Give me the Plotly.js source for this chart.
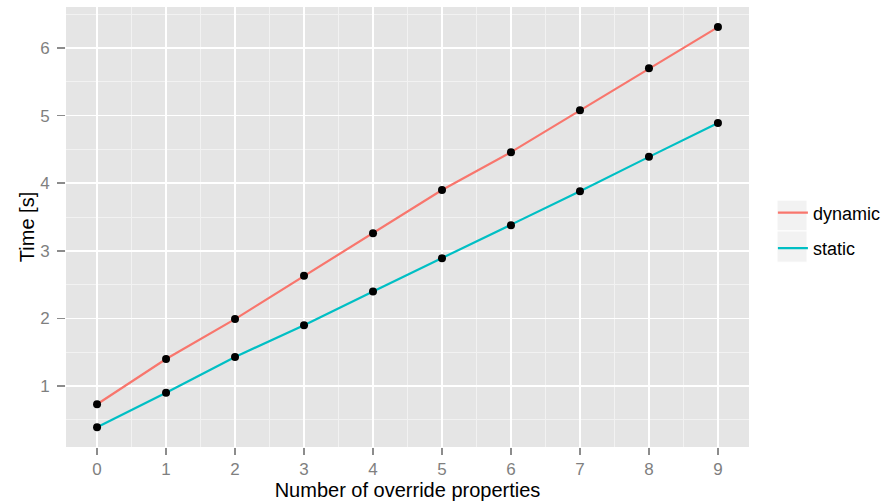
<!DOCTYPE html>
<html>
<head>
<meta charset="utf-8">
<script src="https://cdn.plot.ly/plotly-3.0.1.min.js"></script>
<style>html,body{margin:0;padding:0;background:#fff;}#chart{width:893px;height:501px;}</style>
</head>
<body>
<div id="chart"></div>
<script>
const xValues = [0, 1, 2, 3, 4, 5, 6, 7, 8, 9];
const dynamicTimes = [0.73, 1.40, 1.99, 2.63, 3.26, 3.90, 4.46, 5.08, 5.70, 6.31];
const staticTimes = [0.39, 0.90, 1.43, 1.90, 2.40, 2.89, 3.38, 3.88, 4.39, 4.89];
const yTicks = [1, 2, 3, 4, 5, 6];
const seriesNames = ['dynamic', 'static'];
const seriesColors = ['#F8766D', '#00BFC4'];

function lineTrace(name, ys, color) {
  return {
    x: xValues, y: ys, name: name, type: 'scatter', mode: 'lines',
    legendgroup: name, showlegend: true,
    line: {color: color, width: 2.2}
  };
}
function pointTrace(name, ys) {
  return {
    x: xValues, y: ys, name: name, type: 'scatter', mode: 'markers',
    legendgroup: name, showlegend: false,
    marker: {color: '#000000', size: 8}
  };
}

const data = [
  lineTrace(seriesNames[0], dynamicTimes, seriesColors[0]),
  lineTrace(seriesNames[1], staticTimes, seriesColors[1]),
  pointTrace(seriesNames[0], dynamicTimes),
  pointTrace(seriesNames[1], staticTimes)
];

const font = 'Liberation Sans, Arial, sans-serif';
const layout = {
  width: 893, height: 501,
  margin: {l: 66, r: 141, t: 7, b: 54},
  paper_bgcolor: '#ffffff',
  plot_bgcolor: '#E5E5E5',
  font: {family: font, color: '#7F7F7F', size: 17},
  showlegend: true,
  legend: {
    x: 1.035, y: 0.492, xanchor: 'left', yanchor: 'middle',
    font: {family: font, color: '#000000', size: 18},
    itemwidth: 30, traceorder: 'grouped', tracegroupgap: 9,
    bgcolor: 'rgba(0,0,0,0)', borderwidth: 0
  },
  shapes: [
    {type: 'rect', xref: 'paper', yref: 'paper', x0: 1.041, x1: 1.085, y0: 0.491, y1: 0.561,
     fillcolor: '#F2F2F2', line: {color: '#FFFFFF', width: 1}, layer: 'below'},
    {type: 'rect', xref: 'paper', yref: 'paper', x0: 1.041, x1: 1.085, y0: 0.420, y1: 0.491,
     fillcolor: '#F2F2F2', line: {color: '#FFFFFF', width: 1}, layer: 'below'}
  ],
  xaxis: {
    range: [-0.45, 9.45], tickvals: xValues, ticktext: xValues.map(String),
    showgrid: true, gridcolor: '#FFFFFF', gridwidth: 1.6,
    zeroline: false, showline: false,
    ticks: 'outside', ticklen: 7, tickcolor: '#8C8C8C', tickwidth: 1.5,
    tickfont: {family: font, color: '#7F7F7F', size: 17},
    minor: {dtick: 0.5, tick0: 0.5, showgrid: true, gridcolor: '#F2F2F2', gridwidth: 1, ticklen: 0},
    title: {text: 'Number of override properties', font: {family: font, color: '#000000', size: 20}, standoff: 3}
  },
  yaxis: {
    range: [0.098, 6.607], tickvals: yTicks,
    showgrid: true, gridcolor: '#FFFFFF', gridwidth: 1.6,
    zeroline: false, showline: false,
    ticks: 'outside', ticklen: 8, tickcolor: '#8C8C8C', tickwidth: 1.5,
    ticklabelstandoff: 4,
    tickfont: {family: font, color: '#7F7F7F', size: 17},
    minor: {dtick: 0.5, tick0: 0.5, showgrid: true, gridcolor: '#F2F2F2', gridwidth: 1, ticklen: 0},
    title: {text: 'Time [s]', font: {family: font, color: '#000000', size: 20}, standoff: 0}
  }
};

Plotly.newPlot('chart', data, layout, {displayModeBar: false, staticPlot: true});
</script>
</body>
</html>
